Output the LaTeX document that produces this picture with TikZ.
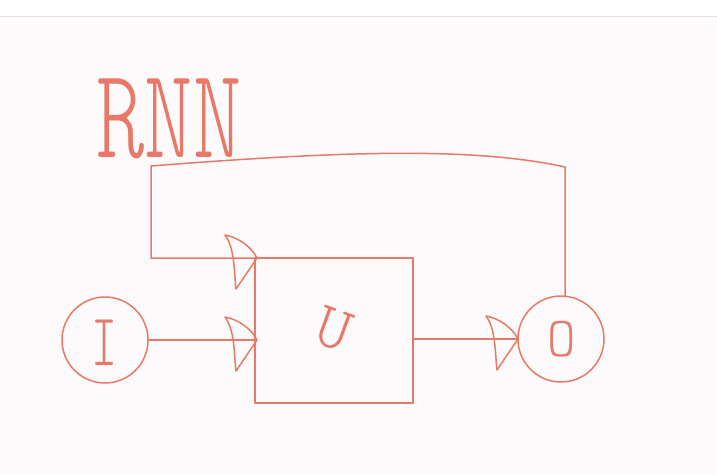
\documentclass[tikz,border=0pt]{standalone}
\usepackage{fontspec}
\newfontfamily\skfont{lmmonolt10-regular.otf}
\definecolor{ink}{RGB}{232,121,104}
\definecolor{paper}{RGB}{252,250,250}
\definecolor{rule}{RGB}{226,226,226}
\begin{document}
\begin{tikzpicture}[x=1pt,y=-1pt,
  sk/.style={draw=ink,line width=1.5pt,line join=round,line cap=round},
  skcircle/.style={sk,circle,minimum size=86pt,inner sep=0pt,outer sep=0pt},
  skbox/.style={sk,rectangle,minimum width=158pt,minimum height=145pt,inner sep=0pt,outer sep=0pt},
  lbl/.style={text=ink,inner sep=0pt},
  hhead/.pic={\draw[sk] (-32,-23) .. controls (-20,-21) and (-6,-12) .. (0,0)
      -- (-21,31) .. controls (-23,15) and (-22,-10) .. cycle;}
]
\useasboundingbox (0,0) rectangle (717,474);
\fill[paper] (0,0) rectangle (717,474);
\fill[white] (0,0) rectangle (717,16);
\draw[rule,line width=1pt] (0,16) -- (717,16);

\node[lbl,font=\skfont\fontsize{92}{92}\selectfont,yscale=1.4] (title) at (169,119) {RNN};

\node[skcircle] (in) at (105,340) {};
\node[lbl,font=\skfont\fontsize{62}{62}\selectfont,xscale=0.8,yscale=1.2] (inl) at (105,343) {I};
\node[skbox] (cell) at (334,330.5) {};
\node[lbl,font=\skfont\fontsize{64}{64}\selectfont,rotate=-20] (cl) at (334,329) {U};
\node[skcircle] (out) at (561,339) {};
\node[lbl,font=\skfont\fontsize{54}{54}\selectfont,yscale=1.05] (ol) at (562,339) {O};

\coordinate (fr) at (565,167);
\coordinate (fl) at (151,166);

\draw[sk] (in.east) -- (cell.west |- in.east) coordinate (t1);
\pic at ([xshift=2pt]t1) {hhead};
\draw[sk] (cell.east |- out.west) -- (out.west) coordinate (t2);
\pic at (t2) {hhead};
\draw[sk] (out.north -| fr) -- (fr) .. controls (470,146) and (330,152) .. (fl)
  -- (fl |- cell.north) -- (cell.north west) coordinate (t3);
\pic at ([xshift=2pt]t3) {hhead};
\end{tikzpicture}
\end{document}
